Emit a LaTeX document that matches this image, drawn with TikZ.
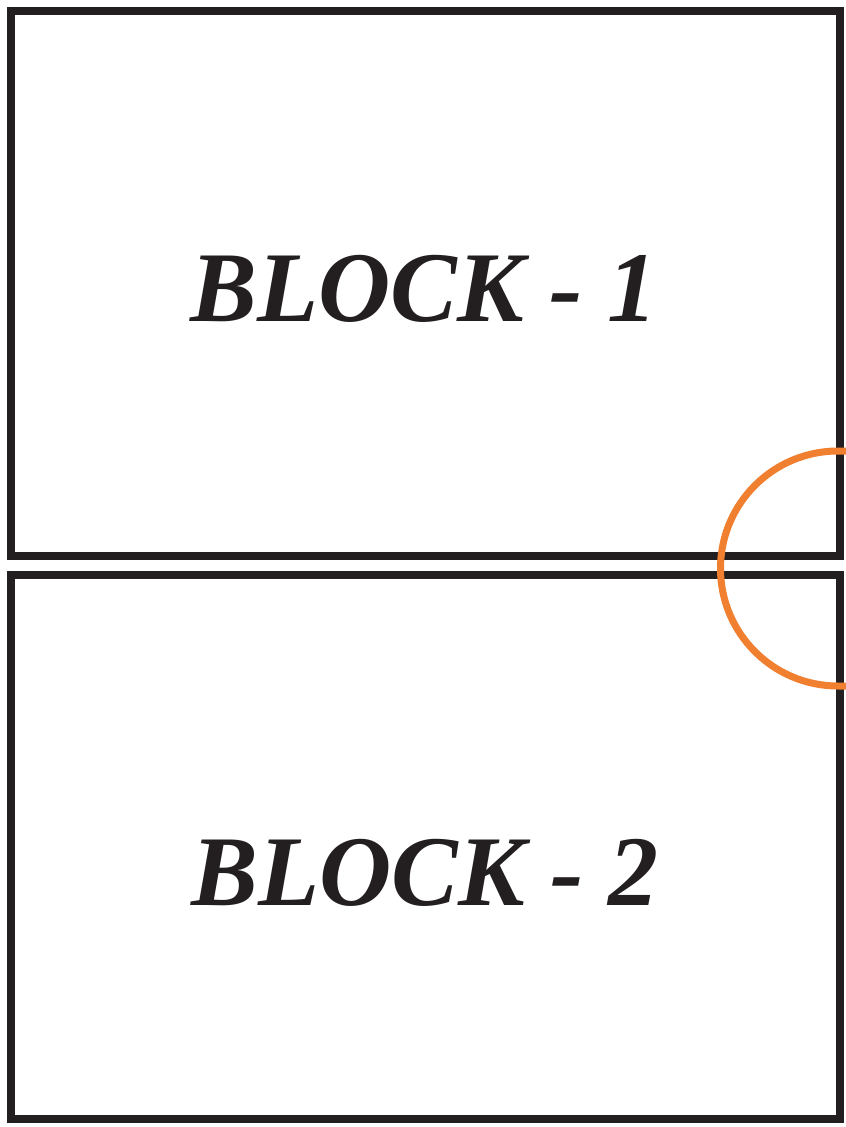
\documentclass[tikz,border=0pt]{standalone}
\usepackage{fontspec}
\setmainfont{Liberation Serif}[BoldFont={Liberation Serif Bold},ItalicFont={Liberation Serif Italic},BoldItalicFont={Liberation Serif Bold Italic}]
\definecolor{blockline}{RGB}{35,31,32}
\definecolor{arcorange}{RGB}{240,128,48}
\begin{document}
\begin{tikzpicture}[x=1bp,y=-1bp,
  blockbox/.style={draw=blockline, line width=8bp, line join=miter},
  blocklabel/.style={anchor=base, inner sep=0pt, text=blockline,
    font=\fontsize{100bp}{120bp}\selectfont\bfseries\itshape},
  hinge/.style={draw=arcorange, line width=7bp}]
\useasboundingbox (0,0) rectangle (846,1127);
\fill[white] (0,0) rectangle (846,1127);
\draw[blockbox] (11,11) rectangle (840,555.5);
\draw[blockbox] (11,575) rectangle (840,1119);
\node[blocklabel] (b1) at (424,321) {BLOCK - 1};
\node[blocklabel] (b2) at (425,905) {BLOCK - 2};
\coordinate (hs) at (846,451);
\coordinate (ht) at (838,451);
\draw[hinge] (hs) -- (ht) arc[start angle=270, end angle=90, radius=117.5] -- (846,686);
\end{tikzpicture}
\end{document}
